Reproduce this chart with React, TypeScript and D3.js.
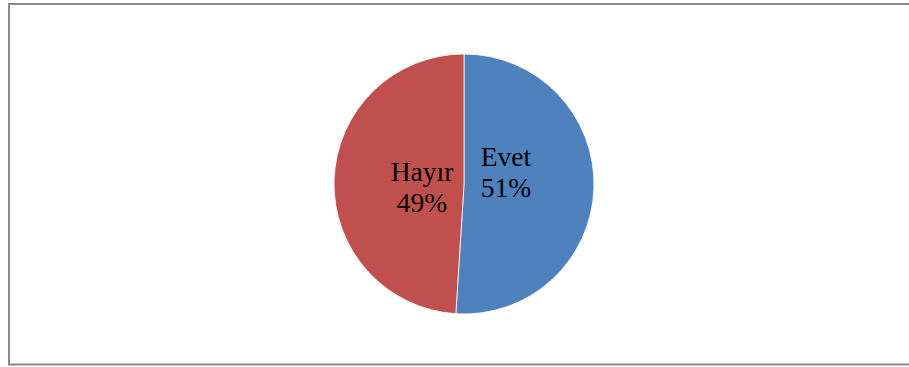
import React from "react";
import * as d3 from "d3";

const categories = ["Evet", "Hayır"];
const values = [51, 49];
const colors = ["#4F81BD", "#C0504D"];

const W = 909;
const H = 367;

export default function App() {
  const cx = 464;
  const cy = 184;
  const r = 130;
  const pie = d3
    .pie<number>()
    .sort(null)
    .value((d) => d);
  const arcs = pie(values);
  const arc = d3.arc<d3.PieArcDatum<number>>().innerRadius(0).outerRadius(r);
  const labelArc = d3
    .arc<d3.PieArcDatum<number>>()
    .innerRadius(42)
    .outerRadius(42);
  const total = d3.sum(values);
  const nudges = [[0, -13], [0, 4]];

  return (
    <svg
      width={W}
      height={H}
      style={{ position: "absolute", left: 0, top: 0, background: "#fff" }}
    >
      <rect x={0} y={0} width={W} height={H} fill="#fff" />
      <path
        d={`M${W + 2},4 L9,4 L9,364.5 L${W + 2},364.5`}
        fill="none"
        stroke="#8a8a8a"
        strokeWidth={2}
      />
      <g transform={`translate(${cx},${cy})`}>
        {arcs.map((a, i) => (
          <path
            key={categories[i]}
            d={arc(a) || ""}
            fill={colors[i]}
            stroke="#fff"
            strokeWidth={0.8}
          />
        ))}
        {arcs.map((a, i) => {
          const [x, y] = labelArc.centroid(a);
          const pct = Math.round((values[i] / total) * 100) + "%";
          return (
            <text
              key={"l" + i}
              x={x + nudges[i][0]}
              y={y + nudges[i][1]}
              textAnchor="middle"
              fontFamily="'Liberation Serif', 'Times New Roman', serif"
              fontSize={27.5}
              fill="#000"
            >
              <tspan x={x + nudges[i][0]} dy={-6}>
                {categories[i]}
              </tspan>
              <tspan x={x + nudges[i][0]} dy={31}>
                {pct}
              </tspan>
            </text>
          );
        })}
      </g>
    </svg>
  );
}
